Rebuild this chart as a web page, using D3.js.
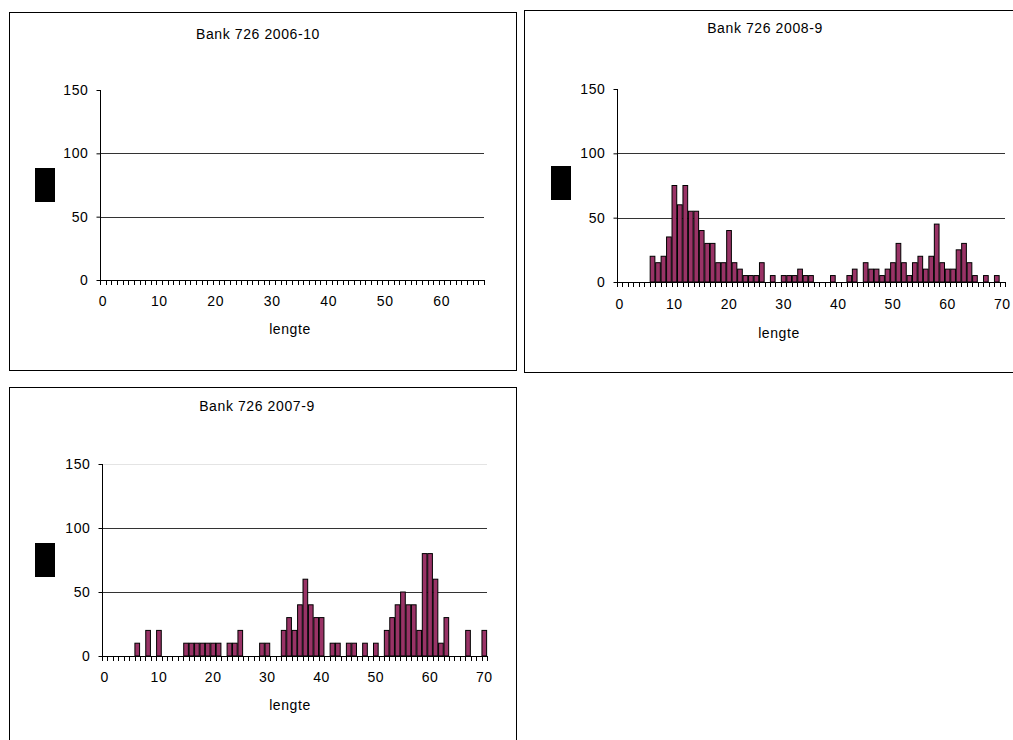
<!DOCTYPE html>
<html>
<head>
<meta charset="utf-8">
<script src="https://cdn.jsdelivr.net/npm/d3@7"></script>
<style>
  body { margin: 0; background: #fff; }
  text { font-family: "Liberation Sans", Arial, sans-serif; fill: #000; }
</style>
</head>
<body>
<div id="map"></div>
<script>
// length classes (cm) on the category axis
var lengths2006 = d3.range(0, 68)
var lengths = d3.range(0, 71)

// counts per length (2006-10 had no catch)
var counts2006 = []
var counts2008 = [0,0,0,0,0,0,20,15,20,35,
  75,60,75,55,55,40,30,30,15,15,
  40,15,10,5,5,5,15,0,5,0,
  5,5,5,10,5,5,0,0,0,5,
  0,0,5,10,0,15,10,10,5,10,
  15,30,15,5,15,20,10,20,45,15,
  10,10,25,30,15,5,0,5,0,5,0]
var counts2007 = [0,0,0,0,0,0,10,0,20,0,
  20,0,0,0,0,10,10,10,10,10,
  10,10,0,10,10,20,0,0,0,10,
  10,0,0,20,30,20,40,60,40,30,
  30,0,10,10,0,10,10,0,10,0,
  10,0,20,30,40,50,40,40,20,80,
  80,60,10,30,0,0,0,20,0,0,20]

var yTicks = [0, 50, 100, 150]
var xLabels = [0, 10, 20, 30, 40, 50, 60, 70]

var fontSize = "14px"
var spacing = "0.6px"

var svg = d3.select("#map").append("svg")
    .attr("width", 1013)
    .attr("height", 740)

function drawChart(c) {
  var g = svg.append("g")

  // outer frame of the chart
  g.append("rect")
    .attr("x", c.box[0] + 0.5).attr("y", c.box[1] + 0.5)
    .attr("width", c.box[2]).attr("height", c.box[3])
    .style("fill", "none").style("stroke", "#000")

  var x = d3.scaleBand()
    .domain(c.cats)
    .range([c.left, c.right])
    .paddingInner(0)

  var y = d3.scaleLinear()
    .domain([0, 150])
    .range([c.bottom, c.top])

  // gridlines at 50 and 100
  g.selectAll("line.grid")
    .data(yTicks.filter(function(d) { return d > 0 && (d < 150 || c.grid150) }))
    .enter().append("line")
    .attr("x1", c.left).attr("x2", c.right)
    .attr("y1", function(d) { return Math.round(y(d)) + 0.5 })
    .attr("y2", function(d) { return Math.round(y(d)) + 0.5 })
    .style("stroke", function(d) { return d == 150 ? "#e4e4e4" : "#333" })

  // bars
  var bw = x.bandwidth() * 0.86
  var data = c.cats.map(function(d, i) { return {k: d, v: c.values[i] || 0} })
    .filter(function(d) { return d.v > 0 })
  g.selectAll("rect.bar")
    .data(data)
    .enter().append("rect")
    .attr("class", "bar")
    .attr("x", function(d) { return x(d.k) + (x.bandwidth() - bw) / 2 })
    .attr("y", function(d) { return y(d.v) })
    .attr("width", bw)
    .attr("height", function(d) { return y(0) - y(d.v) })
    .style("fill", "#993366")
    .style("stroke", "#000")
    .style("stroke-width", 1)

  // y axis
  var yAxis = d3.axisLeft(y).tickValues(yTicks).tickSize(4).tickPadding(8)
  var ya = g.append("g")
    .attr("transform", "translate(" + (Math.round(c.left) + 0.5) + ",0)")
    .call(yAxis)
  ya.select(".domain").remove()
  ya.append("line")
    .attr("y1", y(150)).attr("y2", y(0))
    .style("stroke", "#000")
  ya.selectAll("line").style("stroke", "#000")
  ya.selectAll("text")
    .style("font-size", fontSize)
    .style("letter-spacing", spacing)
    .style("font-family", "Liberation Sans, Arial")

  // x axis: line, minor ticks between categories
  var xa = g.append("g")
  xa.append("line")
    .attr("x1", c.left).attr("x2", c.right + 1)
    .attr("y1", Math.round(y(0)) + 0.5).attr("y2", Math.round(y(0)) + 0.5)
    .style("stroke", "#000")
  xa.selectAll("line.tick")
    .data(c.cats.concat(["end"]))
    .enter().append("line")
    .attr("x1", function(d, i) { return Math.round(c.left + i * x.step()) + 0.5 })
    .attr("x2", function(d, i) { return Math.round(c.left + i * x.step()) + 0.5 })
    .attr("y1", Math.round(y(0))).attr("y2", Math.round(y(0)) + 5)
    .style("stroke", "#000")
  xa.selectAll("text")
    .data(xLabels.filter(function(d) { return c.cats.indexOf(d) >= 0 }))
    .enter().append("text")
    .attr("x", function(d) { return x(d) + x.bandwidth() / 2 })
    .attr("y", c.labelY)
    .attr("text-anchor", "middle")
    .style("font-size", fontSize)
    .style("letter-spacing", spacing)
    .text(function(d) { return d })

  // title, axis title, small black legend key
  g.append("text")
    .attr("x", c.titleX).attr("y", c.titleY)
    .attr("text-anchor", "middle")
    .style("font-size", fontSize)
    .style("letter-spacing", spacing)
    .text(c.title)
  g.append("text")
    .attr("x", c.lenX).attr("y", c.lenY)
    .attr("text-anchor", "middle")
    .style("font-size", fontSize)
    .style("letter-spacing", spacing)
    .text("lengte")
  g.append("rect")
    .attr("x", c.key[0]).attr("y", c.key[1])
    .attr("width", 20).attr("height", 34)
    .style("fill", "#000")
}

drawChart({title: "Bank 726 2006-10", cats: lengths2006, values: counts2006,
  box: [9, 12, 507, 358], left: 100, right: 484, top: 90, bottom: 280,
  labelY: 306, titleX: 258, titleY: 39, lenX: 290, lenY: 334, key: [35, 168]})

drawChart({title: "Bank 726 2008-9", cats: lengths, values: counts2008,
  box: [524, 10, 520, 362], left: 617, right: 1005, top: 89, bottom: 282,
  labelY: 309, titleX: 765, titleY: 33, lenX: 779, lenY: 338, key: [551, 166]})

drawChart({title: "Bank 726 2007-9", cats: lengths, values: counts2007,
  box: [9, 387, 507, 370], left: 102, right: 487, top: 464, bottom: 656,
  labelY: 682, titleX: 257, titleY: 411, lenX: 290, lenY: 710, key: [35, 543],
  grid150: true})
</script>
</body>
</html>
